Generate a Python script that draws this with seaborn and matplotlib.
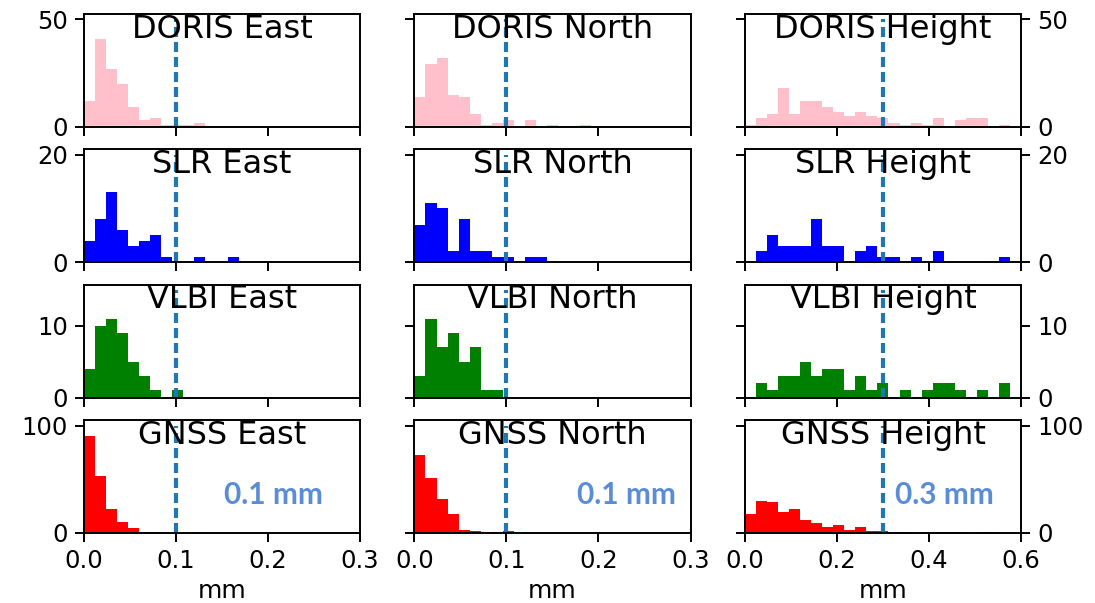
import numpy as np
import pandas as pd
import matplotlib
matplotlib.use("Agg")
import matplotlib.pyplot as plt
import seaborn as sns

# Histogram counts per technique / component (25 equal bins from 0 to the axis maximum)
doris_east = [12, 41, 27, 20, 9, 3, 4, 1, 1, 1, 2, 0, 0, 0, 0, 0, 0, 0, 0, 0, 0, 0, 0, 0, 0]
doris_north = [14, 29, 32, 15, 14, 6, 1, 2, 3, 0, 3, 0, 1, 0, 0, 1, 0, 0, 0, 0, 0, 0, 0, 0, 0]
doris_height = [1, 4, 6, 18, 6, 12, 12, 9, 7, 5, 7, 5, 4, 2, 1, 2, 1, 4, 0, 3, 4, 4, 0, 1, 0]

slr_east = [4, 8, 13, 6, 3, 4, 5, 1, 0, 0, 1, 0, 0, 1, 0, 0, 0, 0, 0, 0, 0, 0, 0, 0, 0]
slr_north = [7, 11, 10, 2, 8, 2, 2, 1, 1, 0, 1, 1, 0, 0, 0, 0, 0, 0, 0, 0, 0, 0, 0, 0, 0]
slr_height = [0, 2, 5, 3, 3, 3, 8, 3, 3, 0, 2, 3, 1, 1, 0, 1, 0, 2, 0, 0, 0, 0, 0, 1, 0]

vlbi_east = [4, 10, 11, 9, 5, 3, 1, 0, 1, 0, 0, 0, 0, 0, 0, 0, 0, 0, 0, 0, 0, 0, 0, 0, 0]
vlbi_north = [3, 11, 7, 9, 5, 7, 1, 1, 0, 0, 0, 0, 0, 0, 0, 0, 0, 0, 0, 0, 0, 0, 0, 0, 0]
vlbi_height = [0, 2, 1, 3, 3, 5, 3, 4, 4, 1, 3, 1, 2, 0, 1, 0, 1, 2, 2, 1, 0, 1, 0, 2, 0]

gnss_east = [90, 53, 22, 10, 5, 1, 1, 0, 0, 0, 1, 0, 0, 0, 0, 0, 0, 0, 0, 0, 0, 0, 0, 0, 0]
gnss_north = [73, 51, 32, 18, 3, 2, 1, 1, 2, 0, 0, 0, 0, 0, 0, 0, 0, 0, 0, 0, 0, 0, 0, 0, 0]
gnss_height = [18, 30, 29, 20, 22, 12, 9, 6, 7, 3, 6, 2, 2, 1, 1, 0, 1, 1, 1, 1, 0, 1, 1, 0, 0]

techniques = ["DORIS", "SLR", "VLBI", "GNSS"]
components = ["East", "North", "Height"]
bar_colors = ["pink", "blue", "green", "red"]
x_max = [0.3, 0.3, 0.6]
x_ticks = [[0.0, 0.1, 0.2, 0.3], [0.0, 0.1, 0.2, 0.3], [0.0, 0.2, 0.4, 0.6]]
y_ticks = [[0, 50], [0, 20], [0, 10], [0, 100]]
thresholds = [0.1, 0.1, 0.3]
threshold_labels = ["0.1 mm", "0.1 mm", "0.3 mm"]
line_tops = [50, 20, 15, 100]
n_bins = 25

counts = {
    "DORIS": [doris_east, doris_north, doris_height],
    "SLR": [slr_east, slr_north, slr_height],
    "VLBI": [vlbi_east, vlbi_north, vlbi_height],
    "GNSS": [gnss_east, gnss_north, gnss_height],
}

sns.set_style("ticks")
plt.rcParams["font.family"] = ["DejaVu Sans"]
plt.rcParams["axes.edgecolor"] = "black"
plt.rcParams["axes.linewidth"] = 1.4
plt.rcParams["text.color"] = "black"
plt.rcParams["axes.labelcolor"] = "black"

fig, axes = plt.subplots(4, 3, figsize=(10.95, 6.03), dpi=100, sharex="col", sharey="row")
fig.subplots_adjust(left=0.0767, right=0.9324, top=0.9768, bottom=0.1161,
                    wspace=0.197, hspace=0.2)

label_x = [0.687, 0.769, 0.723]

for i, tech in enumerate(techniques):
    for j, comp in enumerate(components):
        ax = axes[i, j]
        edges = np.linspace(0, x_max[j], n_bins + 1)
        centers = (edges[:-1] + edges[1:]) / 2
        df = pd.DataFrame({"mm": centers, "n": counts[tech][j]})
        sns.histplot(data=df, x="mm", weights="n", bins=edges.tolist(),
                     color=bar_colors[i], alpha=1, linewidth=0, ax=ax)
        ax.plot([thresholds[j], thresholds[j]], [0, line_tops[i]], ls="--",
                dashes=(2.4, 1.2), color="#1f77b4", lw=3)
        ax.set_xlim(0, x_max[j])
        ax.set_ylim(0, line_tops[i] * 1.05)
        ax.set_xticks(x_ticks[j])
        ax.set_yticks(y_ticks[i])
        ax.set_ylabel("")
        ax.set_xlabel("")
        ax.text(0.5, 0.79, f"{tech} {comp}", transform=ax.transAxes, ha="center",
                va="baseline", fontsize=23, color="black")
        ax.tick_params(axis="both", length=6.5, width=1.4, labelsize=17.5, pad=5,
                       color="black", labelcolor="black")
        if j == 2:
            ax.tick_params(axis="y", right=True, labelright=True, labelleft=False)
        if i == 3:
            ax.set_xlabel("mm", fontsize=18, labelpad=4, color="black")
            ax.text(label_x[j], 0.336, threshold_labels[j], transform=ax.transAxes,
                    ha="center", va="center", color="#5A8DD6", fontsize=21.5,
                    fontweight="bold", family=["Lato", "DejaVu Sans"])
        for sp in ax.spines.values():
            sp.set_visible(True)
            sp.set_linewidth(1.4)
            sp.set_color("black")

fig.savefig("out.png", dpi=100)
